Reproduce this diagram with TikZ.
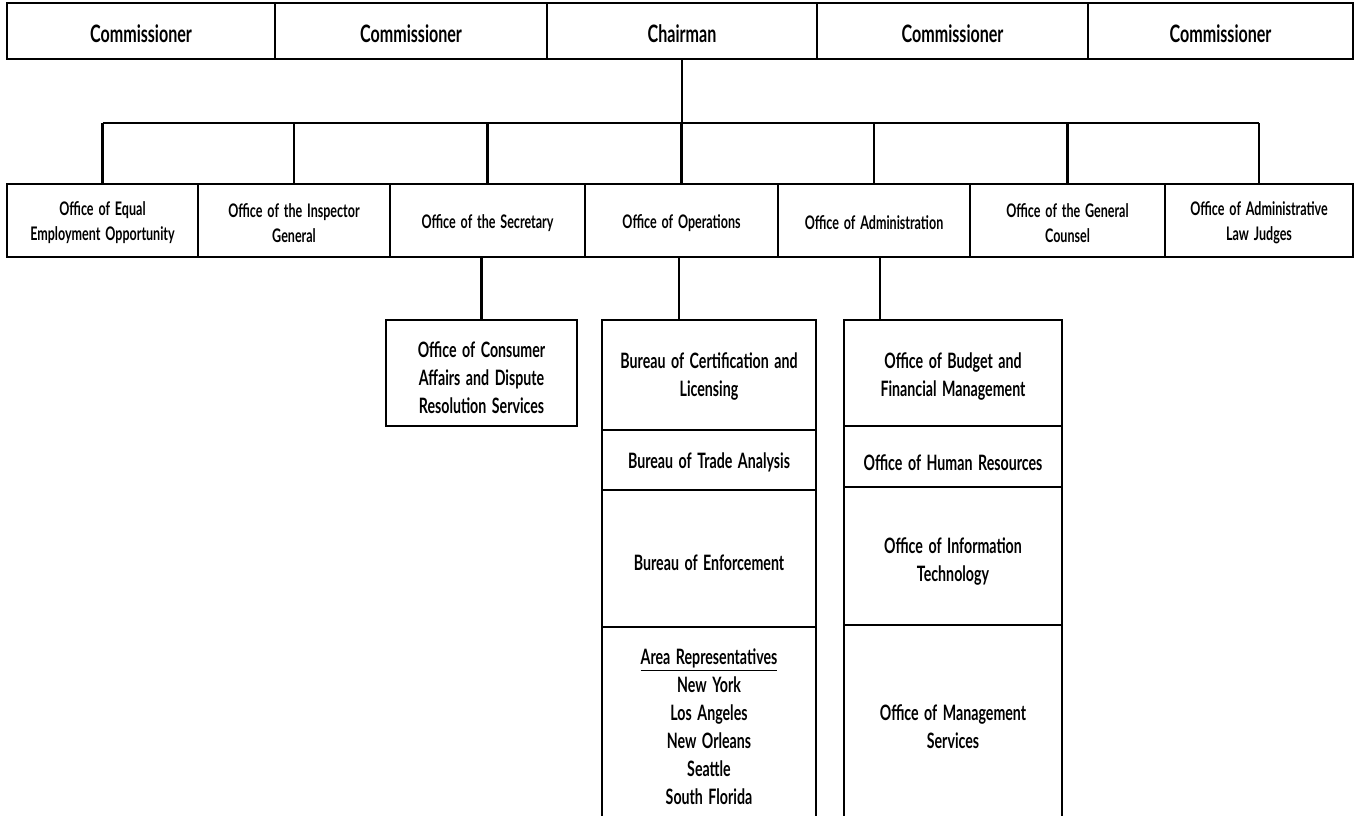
\documentclass[tikz,border=0pt]{standalone}
\usepackage{fontspec}
\setmainfont{Lato}[FakeStretch=0.67, WordSpace=1.6]
\begin{document}
\begin{tikzpicture}[x=1pt,y=-1pt,
  box/.style={draw, line width=2.8pt, inner sep=0pt, outer sep=0pt},
  toptext/.style={font=\bfseries\fontsize{24}{28}\selectfont, inner sep=0pt},
  midtext/.style={font=\bfseries\fontsize{18.7}{25}\selectfont, align=center, inner sep=0pt},
  lowtext/.style={font=\bfseries\fontsize{21.2}{28}\selectfont, align=center, inner sep=0pt},
  link/.style={line width=2.8pt}
]
\useasboundingbox (0,0) rectangle (1355,815);
\fill[white] (0,0) rectangle (1355,815);
\clip (0,0) rectangle (1355,815);

% top row
\node[box, minimum width=268, minimum height=56] (c1) at (141,31) {};
\node[box, minimum width=272, minimum height=56] (c2) at (411,31) {};
\node[box, minimum width=270, minimum height=56] (ch) at (682,31) {};
\node[box, minimum width=271, minimum height=56] (c3) at (952.5,31) {};
\node[box, minimum width=265, minimum height=56] (c4) at (1220.5,31) {};
\node[toptext] (tc1) at (141,34) {Commissioner};
\node[toptext] (tc2) at (411,34) {Commissioner};
\node[toptext] (tch) at (682,34) {Chairman};
\node[toptext] (tc3) at (952.5,34) {Commissioner};
\node[toptext] (tc4) at (1220.5,34) {Commissioner};

% second row
\node[box, minimum width=191, minimum height=73] (eeo) at (102.5,220.5) {};
\node[box, minimum width=192, minimum height=73] (oig) at (294,220.5) {};
\node[box, minimum width=195, minimum height=73] (sec) at (487.5,220.5) {};
\node[box, minimum width=193, minimum height=73] (ops) at (681.5,220.5) {};
\node[box, minimum width=192, minimum height=73] (adm) at (874,220.5) {};
\node[box, minimum width=195, minimum height=73] (ogc) at (1067.5,220.5) {};
\node[box, minimum width=188, minimum height=73] (alj) at (1259,220.5) {};
\node[midtext] (teeo) at (102.5,223) {Office of Equal\\Employment Opportunity};
\node[midtext] (toig) at (294,223) {Office of the Inspector\\General};
\node[midtext] (tsec) at (487.5,223) {Office of the Secretary};
\node[midtext] (tops) at (681.5,223) {Office of Operations};
\node[midtext] (tadm) at (874,223) {Office of Administration};
\node[midtext] (togc) at (1067.5,223) {Office of the General\\Counsel};
\node[midtext] (talj) at (1259,223) {Office of Administrative\\Law Judges};

% bus
\coordinate (bus) at (682,123);
\draw[link] (ch.south) -- (ch.south |- bus);
\draw[link] (eeo.north |- bus) -- (alj.north |- bus);
\foreach \n in {eeo,oig,sec,ops,adm,ogc,alj}
  \draw[link] (\n.north) -- (\n.north |- bus);

% lower: consumer affairs
\node[box, minimum width=191, minimum height=106] (cad) at (481.5,373) {};
\node[lowtext] (tcad) at (481.5,378) {Office of Consumer\\Affairs and Dispute\\Resolution Services};
\draw[link] (cad.north) -- (cad.north |- sec.south);

% lower: operations stack
\node[box, minimum width=214, minimum height=110] (bcl) at (709,375) {};
\node[box, minimum width=214, minimum height=60] (bta) at (709,460) {};
\node[box, minimum width=214, minimum height=137] (boe) at (709,558.5) {};
\node[box, minimum width=214, minimum height=203] (are) at (709,728.5) {};
\node[lowtext] (tbcl) at (709,377) {Bureau of Certification and\\Licensing};
\node[lowtext] (tbta) at (709,462) {Bureau of Trade Analysis};
\node[lowtext] (tboe) at (709,563) {Bureau of Enforcement};
\node[lowtext] (tare) at (709,727) {\underline{Area Representatives}\\New York\\Los Angeles\\New Orleans\\Seattle\\South Florida};
\draw[link] (ops.south -| 679,0) -- (bcl.north -| 679,0);

% lower: administration stack
\node[box, minimum width=218, minimum height=106] (bfm) at (953,373) {};
\node[box, minimum width=218, minimum height=61] (ohr) at (953,456.5) {};
\node[box, minimum width=218, minimum height=138] (oit) at (953,556) {};
\node[box, minimum width=218, minimum height=205] (oms) at (953,727.5) {};
\node[lowtext] (tbfm) at (953,377) {Office of Budget and\\Financial Management};
\node[lowtext] (tohr) at (953,463) {Office of Human Resources};
\node[lowtext] (toit) at (953,562) {Office of Information\\Technology};
\node[lowtext] (toms) at (953,727) {Office of Management\\Services};
\draw[link] (adm.south -| 880,0) -- (bfm.north -| 880,0);
\end{tikzpicture}
\end{document}
